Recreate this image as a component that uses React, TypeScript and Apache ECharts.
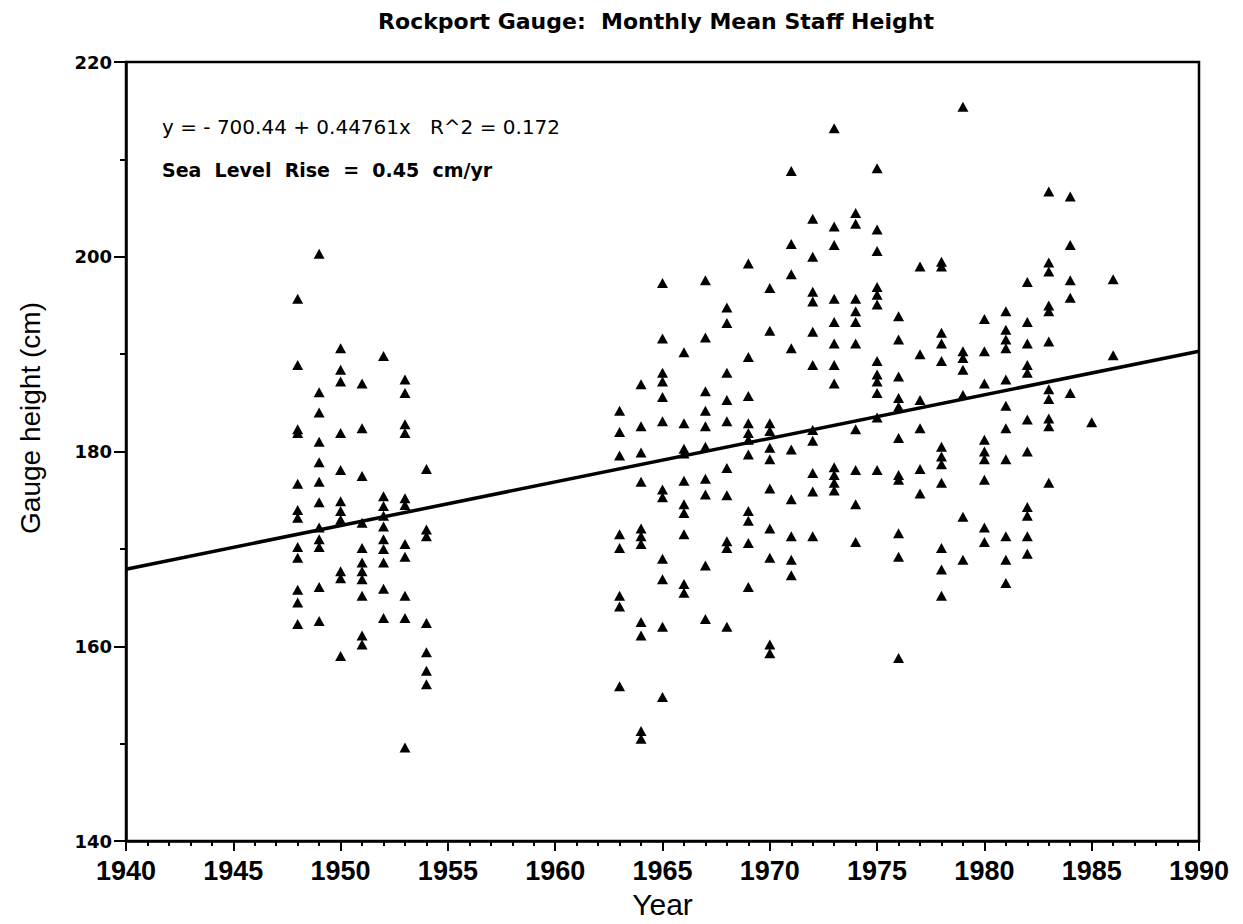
import React, { useEffect, useRef } from "react";
import * as echarts from "echarts";

const chartTitle = "Rockport Gauge:  Monthly Mean Staff Height";
const xAxisName = "Year";
const yAxisName = "Gauge height (cm)";

const xMin = 1940;
const xMax = 1990;
const xInterval = 5;
const yMin = 140;
const yMax = 220;
const yInterval = 20;

const intercept = -700.44;
const slope = 0.44761;
const rSquared = 0.172;
const riseRate = 0.45;

const years = [
  1948, 1949, 1950, 1951, 1952, 1953, 1954,
  1963, 1964, 1965, 1966, 1967, 1968, 1969, 1970, 1971, 1972, 1973, 1974,
  1975, 1976, 1977, 1978, 1979, 1980, 1981, 1982, 1983, 1984, 1985, 1986,
];

const h1948 = [195.7, 188.9, 182.3, 181.9, 176.7, 174.0, 173.2, 170.2, 169.1, 165.8, 164.5, 162.3];
const h1949 = [200.3, 186.1, 184.0, 181.0, 178.9, 176.9, 174.8, 172.2, 171.0, 170.2, 166.1, 162.6];
const h1950 = [190.6, 188.4, 187.2, 181.9, 178.1, 174.9, 173.9, 173.0, 167.7, 167.0, 159.0];
const h1951 = [187.0, 182.4, 177.5, 172.7, 170.1, 168.6, 167.7, 166.9, 165.2, 161.1, 160.2];
const h1952 = [189.8, 175.4, 174.4, 173.4, 172.3, 171.0, 170.0, 168.6, 165.9, 162.9];
const h1953 = [187.4, 186.0, 182.8, 181.9, 175.2, 174.5, 170.5, 169.2, 165.2, 162.9, 149.6];
const h1954 = [178.2, 172.0, 171.3, 162.4, 159.4, 157.5, 156.1];
const h1963 = [184.2, 182.0, 179.6, 171.5, 170.1, 165.2, 164.1, 155.9];
const h1964 = [186.9, 182.6, 179.9, 176.9, 172.1, 171.3, 170.5, 162.5, 161.1, 151.3, 150.5];
const h1965 = [197.3, 191.6, 188.1, 187.2, 185.6, 183.1, 176.1, 175.3, 169.0, 166.9, 162.0, 154.8];
const h1966 = [190.2, 182.9, 180.3, 179.8, 177.0, 174.6, 173.7, 171.5, 166.4, 165.5];
const h1967 = [197.6, 191.7, 186.2, 184.2, 182.6, 180.5, 177.2, 175.6, 168.3, 162.8];
const h1968 = [194.8, 193.2, 188.1, 185.3, 183.1, 178.3, 175.5, 170.8, 170.1, 162.0];
const h1969 = [199.3, 189.7, 185.7, 182.9, 181.9, 181.2, 179.7, 173.9, 172.9, 170.6, 166.1];
const h1970 = [196.8, 192.4, 182.9, 182.1, 180.4, 179.2, 176.2, 172.1, 169.1, 160.2, 159.3];
const h1971 = [208.8, 201.3, 198.2, 190.6, 180.2, 175.1, 171.3, 168.9, 167.3];
const h1972 = [203.9, 200.0, 196.4, 195.4, 192.3, 188.9, 182.2, 181.1, 177.8, 175.9, 171.3];
const h1973 = [213.2, 203.1, 201.2, 195.7, 193.3, 191.1, 188.9, 187.0, 178.4, 177.6, 176.8, 176.0];
const h1974 = [204.5, 203.4, 195.7, 194.4, 193.3, 191.1, 182.3, 178.1, 174.6, 170.7];
const h1975 = [209.1, 202.8, 200.6, 196.9, 196.1, 195.1, 189.3, 187.9, 187.2, 186.0, 183.5, 178.1];
const h1976 = [193.9, 191.5, 187.7, 185.5, 184.6, 181.4, 177.6, 177.1, 171.6, 169.2, 158.8];
const h1977 = [199.0, 190.0, 185.3, 182.4, 178.2, 175.7];
const h1978 = [199.5, 199.0, 192.2, 191.1, 189.3, 180.5, 179.5, 178.7, 176.8, 170.1, 167.9, 165.2];
const h1979 = [215.4, 190.3, 189.6, 188.4, 185.8, 173.3, 168.9];
const h1980 = [193.6, 190.3, 187.0, 181.2, 180.0, 179.2, 177.1, 172.2, 170.7];
const h1981 = [194.4, 192.5, 191.5, 190.6, 187.4, 184.7, 182.4, 179.2, 171.3, 168.9, 166.5];
const h1982 = [197.4, 193.3, 191.1, 188.9, 188.1, 183.3, 180.0, 174.3, 173.4, 171.3, 169.5];
const h1983 = [206.7, 199.4, 198.5, 195.0, 194.4, 191.3, 186.4, 185.4, 183.4, 182.6, 176.8];
const h1984 = [206.2, 201.2, 197.6, 195.8, 186.0];
const h1985 = [183.0];
const h1986 = [197.7, 189.9];

const heightsByYear = [
  h1948, h1949, h1950, h1951, h1952, h1953, h1954,
  h1963, h1964, h1965, h1966, h1967, h1968, h1969, h1970, h1971, h1972, h1973, h1974,
  h1975, h1976, h1977, h1978, h1979, h1980, h1981, h1982, h1983, h1984, h1985, h1986,
];

const SANS = '"Liberation Sans", Arial, Helvetica, sans-serif';
const WIDE = '"DejaVu Sans", Verdana, sans-serif';

export default function App() {
  const ref = useRef<HTMLDivElement>(null);

  useEffect(() => {
    if (!ref.current) return;
    const chart = echarts.init(ref.current, null, { renderer: "svg" });

    const points: number[][] = [];
    years.forEach((yr, i) => {
      heightsByYear[i].forEach((h) => points.push([yr, h]));
    });
    const fitLine = [
      [xMin, intercept + slope * xMin],
      [xMax, intercept + slope * xMax],
    ];

    const equationText =
      "y = - " + Math.abs(intercept).toFixed(2) + " + " + slope.toFixed(5) + "x   R^2 = " + rSquared.toFixed(3);
    const riseText = "Sea  Level  Rise  =  " + riseRate.toFixed(2) + "  cm/yr";

    chart.setOption({
      animation: false,
      backgroundColor: "#ffffff",
      grid: {
        left: 126,
        right: 44,
        top: 62,
        bottom: 82,
        show: true,
        borderColor: "#000",
        borderWidth: 2.5,
        backgroundColor: "transparent",
      },
      graphic: [
        {
          type: "text",
          x: 656,
          y: 21,
          style: {
            text: chartTitle,
            font: "bold 22px " + WIDE,
            textAlign: "center",
            textVerticalAlign: "middle",
            fill: "#000",
          },
        },
        {
          type: "text",
          x: 162,
          y: 127,
          style: {
            text: equationText,
            font: "20px " + WIDE,
            textAlign: "left",
            textVerticalAlign: "middle",
            fill: "#000",
          },
        },
        {
          type: "text",
          x: 162,
          y: 170,
          style: {
            text: riseText,
            font: "bold 19px " + WIDE,
            textAlign: "left",
            textVerticalAlign: "middle",
            fill: "#000",
          },
        },
        {
          type: "text",
          x: 30,
          y: 418,
          rotation: Math.PI / 2,
          style: {
            text: yAxisName,
            font: "28px " + SANS,
            textAlign: "center",
            textVerticalAlign: "middle",
            fill: "#000",
          },
        },
      ],
      xAxis: {
        type: "value",
        min: xMin,
        max: xMax,
        interval: xInterval,
        name: xAxisName,
        nameLocation: "middle",
        nameGap: 46,
        nameTextStyle: { fontSize: 30, color: "#000", fontFamily: SANS },
        axisLine: { show: true, onZero: false, lineStyle: { color: "#000", width: 2.5 } },
        axisTick: { show: true, length: 10, lineStyle: { color: "#000", width: 2 } },
        minorTick: { show: true, splitNumber: 5, length: 5, lineStyle: { color: "#000", width: 2 } },
        axisLabel: {
          fontSize: 27,
          fontWeight: "bold",
          color: "#000",
          fontFamily: SANS,
          margin: 16,
          formatter: (v: number) => String(v),
        },
        splitLine: { show: false },
      },
      yAxis: {
        type: "value",
        min: yMin,
        max: yMax,
        interval: yInterval,
        axisLine: { show: true, onZero: false, lineStyle: { color: "#000", width: 2.5 } },
        axisTick: { show: true, length: 12, lineStyle: { color: "#000", width: 2 } },
        minorTick: { show: true, splitNumber: 2, length: 6, lineStyle: { color: "#000", width: 2 } },
        axisLabel: {
          fontSize: 18,
          fontWeight: "bold",
          color: "#000",
          fontFamily: WIDE,
          margin: 14,
        },
        splitLine: { show: false },
      },
      series: [
        {
          type: "scatter",
          data: points,
          symbol: "triangle",
          symbolSize: [11, 10],
          itemStyle: { color: "#000", opacity: 1 },
          z: 2,
        },
        {
          type: "line",
          data: fitLine,
          symbol: "none",
          lineStyle: { color: "#000", width: 3.5 },
          z: 3,
        },
      ],
    });

    return () => chart.dispose();
  }, []);

  return (
    <div
      ref={ref}
      style={{ position: "fixed", left: 0, top: 0, width: 1243, height: 924 }}
    />
  );
}
